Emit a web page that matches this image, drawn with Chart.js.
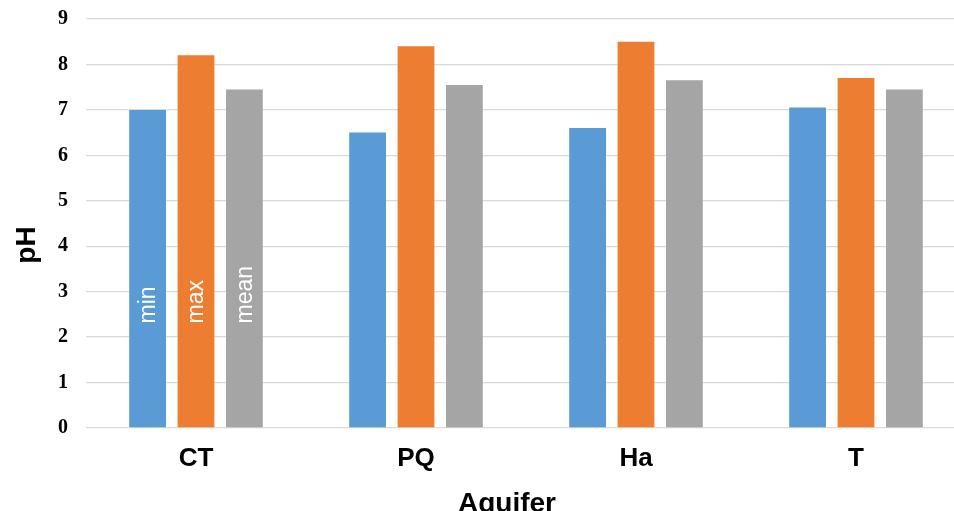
<!DOCTYPE html>
<html>
<head>
<meta charset="utf-8">
<script src="https://cdn.jsdelivr.net/npm/chart.js@4/dist/chart.umd.min.js"></script>
<style>
  html, body { margin: 0; padding: 0; background: #fff; overflow: hidden; width: 954px; height: 511px; }
  #wrap { position: absolute; left: 0; top: 0; width: 966px; height: 520px; }
</style>
</head>
<body>
<div id="wrap"><canvas id="c" width="966" height="520"></canvas></div>
<script>
const categories = ['CT', 'PQ', 'Ha', 'T'];
const seriesNames = ['min', 'max', 'mean'];
const minValues = [7.0, 6.5, 6.6, 7.05];
const maxValues = [8.2, 8.4, 8.5, 7.7];
const meanValues = [7.45, 7.55, 7.65, 7.45];
const yTicks = [0, 1, 2, 3, 4, 5, 6, 7, 8, 9];
const xAxisTitle = 'Aquifer';
const yAxisTitle = 'pH';

const colors = ['#5B9BD5', '#ED7D31', '#A5A5A5'];

const barLabels = {
  id: 'barLabels',
  afterDatasetsDraw(chart) {
    const ctx = chart.ctx;
    const yScale = chart.scales.y;
    ctx.save();
    ctx.fillStyle = '#ffffff';
    ctx.font = '23px "Liberation Sans", Arial, sans-serif';
    ctx.textAlign = 'left';
    ctx.textBaseline = 'middle';
    chart.data.datasets.forEach((ds, i) => {
      const bar = chart.getDatasetMeta(i).data[0];
      ctx.save();
      ctx.translate(bar.x, yScale.getPixelForValue(2.3));
      ctx.rotate(-Math.PI / 2);
      ctx.fillText(ds.label, 0, 1);
      ctx.restore();
    });
    ctx.restore();
  }
};

const axisTitles = {
  id: 'axisTitles',
  afterDraw(chart) {
    const ctx = chart.ctx;
    ctx.save();
    ctx.fillStyle = '#000';
    ctx.font = 'bold 28px "Liberation Sans", Arial, sans-serif';
    ctx.textAlign = 'center';
    ctx.textBaseline = 'alphabetic';
    ctx.fillText(xAxisTitle, 507, 512);
    ctx.save();
    ctx.translate(35, 245);
    ctx.rotate(-Math.PI / 2);
    ctx.fillText(yAxisTitle, 0, 0);
    ctx.restore();
    ctx.restore();
  }
};

const ds = [minValues, maxValues, meanValues].map((vals, i) => ({
  label: seriesNames[i],
  data: vals,
  backgroundColor: colors[i],
  borderWidth: 0,
  categoryPercentage: 0.66,
  barPercentage: 0.76
}));

new Chart(document.getElementById('c'), {
  type: 'bar',
  data: { labels: categories, datasets: ds },
  options: {
    responsive: false,
    animation: false,
    layout: { padding: { top: 19, right: 0, left: 0, bottom: 0 } },
    plugins: { legend: { display: false }, tooltip: { enabled: false } },
    scales: {
      x: {
        grid: { display: false, drawTicks: false },
        border: { display: false },
        ticks: {
          color: '#000',
          padding: 15,
          font: { family: '"Liberation Sans", Arial, sans-serif', size: 26, weight: 'bold' }
        },
        afterFit(scale) { scale.height = 92; scale.paddingLeft = 0; scale.paddingRight = 0; }
      },
      y: {
        min: 0, max: 9,
        afterBuildTicks(scale) { scale.ticks = yTicks.map(v => ({ value: v })); },
        grid: { color: '#d9d9d9', lineWidth: 1.3, drawTicks: false },
        border: { display: false },
        ticks: {
          color: '#000',
          padding: 18,
          font: { family: '"Liberation Serif", "Times New Roman", serif', size: 20, weight: 'bold' }
        },
        afterFit(scale) { scale.width = 86; scale.paddingTop = 0; scale.paddingBottom = 0; }
      }
    }
  },
  plugins: [barLabels, axisTitles]
});
</script>
</body>
</html>
